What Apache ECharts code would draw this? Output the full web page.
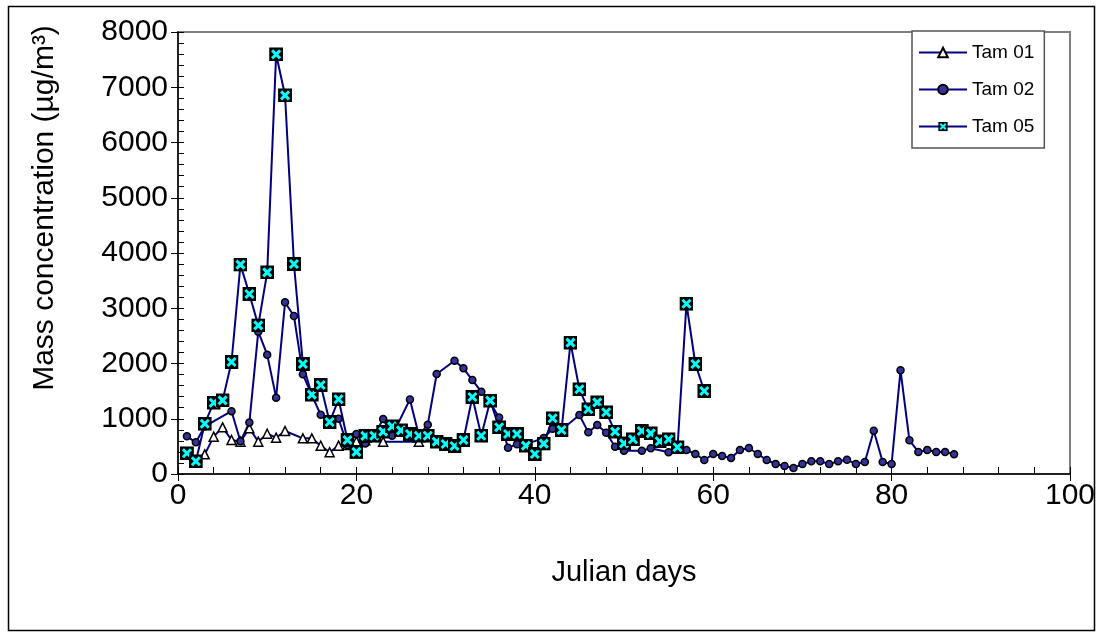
<!DOCTYPE html>
<html>
<head>
<meta charset="utf-8">
<script src="https://cdn.jsdelivr.net/npm/echarts@6/dist/echarts.min.js"></script>
<style>
html,body{margin:0;padding:0;background:#fff;}
#chart{width:1102px;height:637px;}
</style>
</head>
<body>
<div id="chart"></div>
<script>
// ---- Data ----
const seriesNames = ['Tam 01', 'Tam 02', 'Tam 05'];

const days01 = [2,3,4,5,6,7,8,9,10,11,12,14,15,16,17,18,19,20,21,23,27];
const tam01  = [240,356,676,845,615,585,827,585,729,657,778,645,645,513,393,513,525,590,610,585,585];

const days02 = [1,2,3,6,7,8,9,10,11,12,13,14,15,16,17,18,19,20,21,22,23,24,26,27,28,29,31,32,33,34,35,36,37,38,39,41,42,43,45,46,47,48,49,50,52,53,55,57,58,59,60,61,62,63,64,65,66,67,68,69,70,71,72,73,74,75,76,77,78,79,80,81,82,83,84,85,86,87];
const tam02  = [682,573,860,1137,594,930,2576,2160,1382,3107,2860,1804,1430,1071,930,1000,519,723,550,700,995,693,1350,700,893,1810,2051,1913,1701,1490,1290,1023,473,540,540,650,820,800,1068,754,887,748,494,422,422,465,393,434,362,253,362,326,290,434,470,362,253,181,145,109,181,229,229,181,229,259,181,217,784,217,181,1877,610,400,434,398,398,356];

const days05 = [1,2,3,4,5,6,7,8,9,10,11,12,13,14,15,16,17,18,19,20,21,22,23,24,25,26,27,28,29,30,31,32,33,34,35,36,37,38,39,40,41,42,43,44,45,46,47,48,49,50,51,52,53,54,55,56,57,58,59];
const tam05  = [375,230,910,1290,1333,2027,3790,3258,2690,3650,7596,6854,3801,1991,1436,1611,941,1352,615,400,690,693,766,863,790,724,693,693,585,543,507,615,1394,693,1327,845,724,724,513,362,550,1008,796,2377,1533,1171,1297,1117,766,555,628,778,736,592,628,483,3082,1991,1502];

const xTicks = { min: 0, max: 100, interval: 20, minorInterval: 4 };
const yTicks = { min: 0, max: 8000, interval: 1000, minorInterval: 200 };

// ---- Build ----
function pairs(xs, ys) { return xs.map((x, i) => [x, ys[i]]); }

const FONT = 'Liberation Sans, Arial, sans-serif';
const LINE = '#000080';

const xSvg = "<svg xmlns='http://www.w3.org/2000/svg' width='28' height='28'>" +
  "<rect x='0' y='0' width='28' height='28' fill='#000'/>" +
  "<path d='M6 6 L22 22 M22 6 L6 22' stroke='#00FFFF' stroke-width='6' stroke-linecap='butt'/></svg>";
const xSymbol = 'image://data:image/svg+xml;charset=utf-8,' + encodeURIComponent(xSvg);

const chart = echarts.init(document.getElementById('chart'), null, { renderer: 'canvas' });

const option = {
  animation: false,
  backgroundColor: '#fff',
  textStyle: { fontFamily: FONT, color: '#000' },
  grid: {
    left: 178, right: 32, top: 32, bottom: 163,
    show: true, borderColor: '#808080', borderWidth: 2, backgroundColor: 'transparent'
  },
  legend: {
    data: seriesNames,
    orient: 'vertical',
    left: 912, top: 31,
    itemWidth: 48, itemHeight: 12,
    itemGap: 18,
    padding: [12, 10, 12, 6],
    borderColor: '#555', borderWidth: 1.5,
    backgroundColor: '#fff',
    textStyle: { fontFamily: FONT, fontSize: 19, color: '#000' }
  },
  xAxis: [
    {
      type: 'value', min: xTicks.min, max: xTicks.max, interval: xTicks.interval,
      name: 'Julian days', nameLocation: 'middle', nameGap: 84,
      nameTextStyle: { fontFamily: FONT, fontSize: 29, color: '#000' },
      axisLine: { show: true, onZero: false, lineStyle: { color: '#000', width: 1.5 } },
      axisTick: { show: true, inside: false, length: 7, lineStyle: { color: '#000', width: 1 } },
      axisLabel: { fontFamily: FONT, fontSize: 30, color: '#000', margin: 7, formatter: v => String(v) },
      splitLine: { show: false }
    },
    {
      type: 'value', min: xTicks.min, max: xTicks.max, interval: xTicks.minorInterval,
      position: 'bottom',
      axisLine: { show: false },
      axisTick: { show: true, inside: true, length: 7, lineStyle: { color: '#000', width: 1 } },
      axisLabel: { show: false },
      splitLine: { show: false }
    }
  ],
  yAxis: [
    {
      type: 'value', min: yTicks.min, max: yTicks.max, interval: yTicks.interval,
      axisLine: { show: true, onZero: false, lineStyle: { color: '#000', width: 1.5 } },
      axisTick: { show: true, inside: false, length: 7, lineStyle: { color: '#000', width: 1 } },
      axisLabel: { fontFamily: FONT, fontSize: 30, color: '#000', margin: 10, formatter: v => String(v) },
      splitLine: { show: false }
    },
    {
      type: 'value', min: yTicks.min, max: yTicks.max, interval: yTicks.minorInterval,
      position: 'left',
      axisLine: { show: false },
      axisTick: { show: true, inside: true, length: 6, lineStyle: { color: '#000', width: 1 } },
      axisLabel: { show: false },
      splitLine: { show: false }
    }
  ],
  graphic: [
    {
      type: 'rect', z: -1, silent: true,
      shape: { x: 8.5, y: 6.5, width: 1086, height: 624 },
      style: { fill: 'none', stroke: '#000', lineWidth: 1.5 }
    },
    {
      type: 'text', x: 45, y: 208, rotation: Math.PI / 2,
      style: {
        text: 'Mass concentration (µg/m³)',
        font: '30px ' + FONT, fill: '#000',
        textAlign: 'center', textVerticalAlign: 'middle'
      }
    }
  ],
  series: [
    {
      name: seriesNames[0], type: 'line', xAxisIndex: 0, yAxisIndex: 0,
      data: pairs(days01, tam01), connectNulls: true,
      symbol: 'triangle', symbolSize: 9,
      lineStyle: { color: LINE, width: 2 },
      itemStyle: { color: '#fff', borderColor: '#000', borderWidth: 1.5 }
    },
    {
      name: seriesNames[1], type: 'line', xAxisIndex: 0, yAxisIndex: 0,
      data: pairs(days02, tam02), connectNulls: true,
      symbol: 'circle', symbolSize: 7,
      lineStyle: { color: LINE, width: 2 },
      itemStyle: { color: '#333399', borderColor: '#000', borderWidth: 1.5 }
    },
    {
      name: seriesNames[2], type: 'line', xAxisIndex: 0, yAxisIndex: 0,
      data: pairs(days05, tam05), connectNulls: true,
      symbol: xSymbol, symbolSize: 14,
      lineStyle: { color: LINE, width: 2 },
      itemStyle: { color: LINE }
    }
  ]
};
chart.setOption(option);
</script>
</body>
</html>
